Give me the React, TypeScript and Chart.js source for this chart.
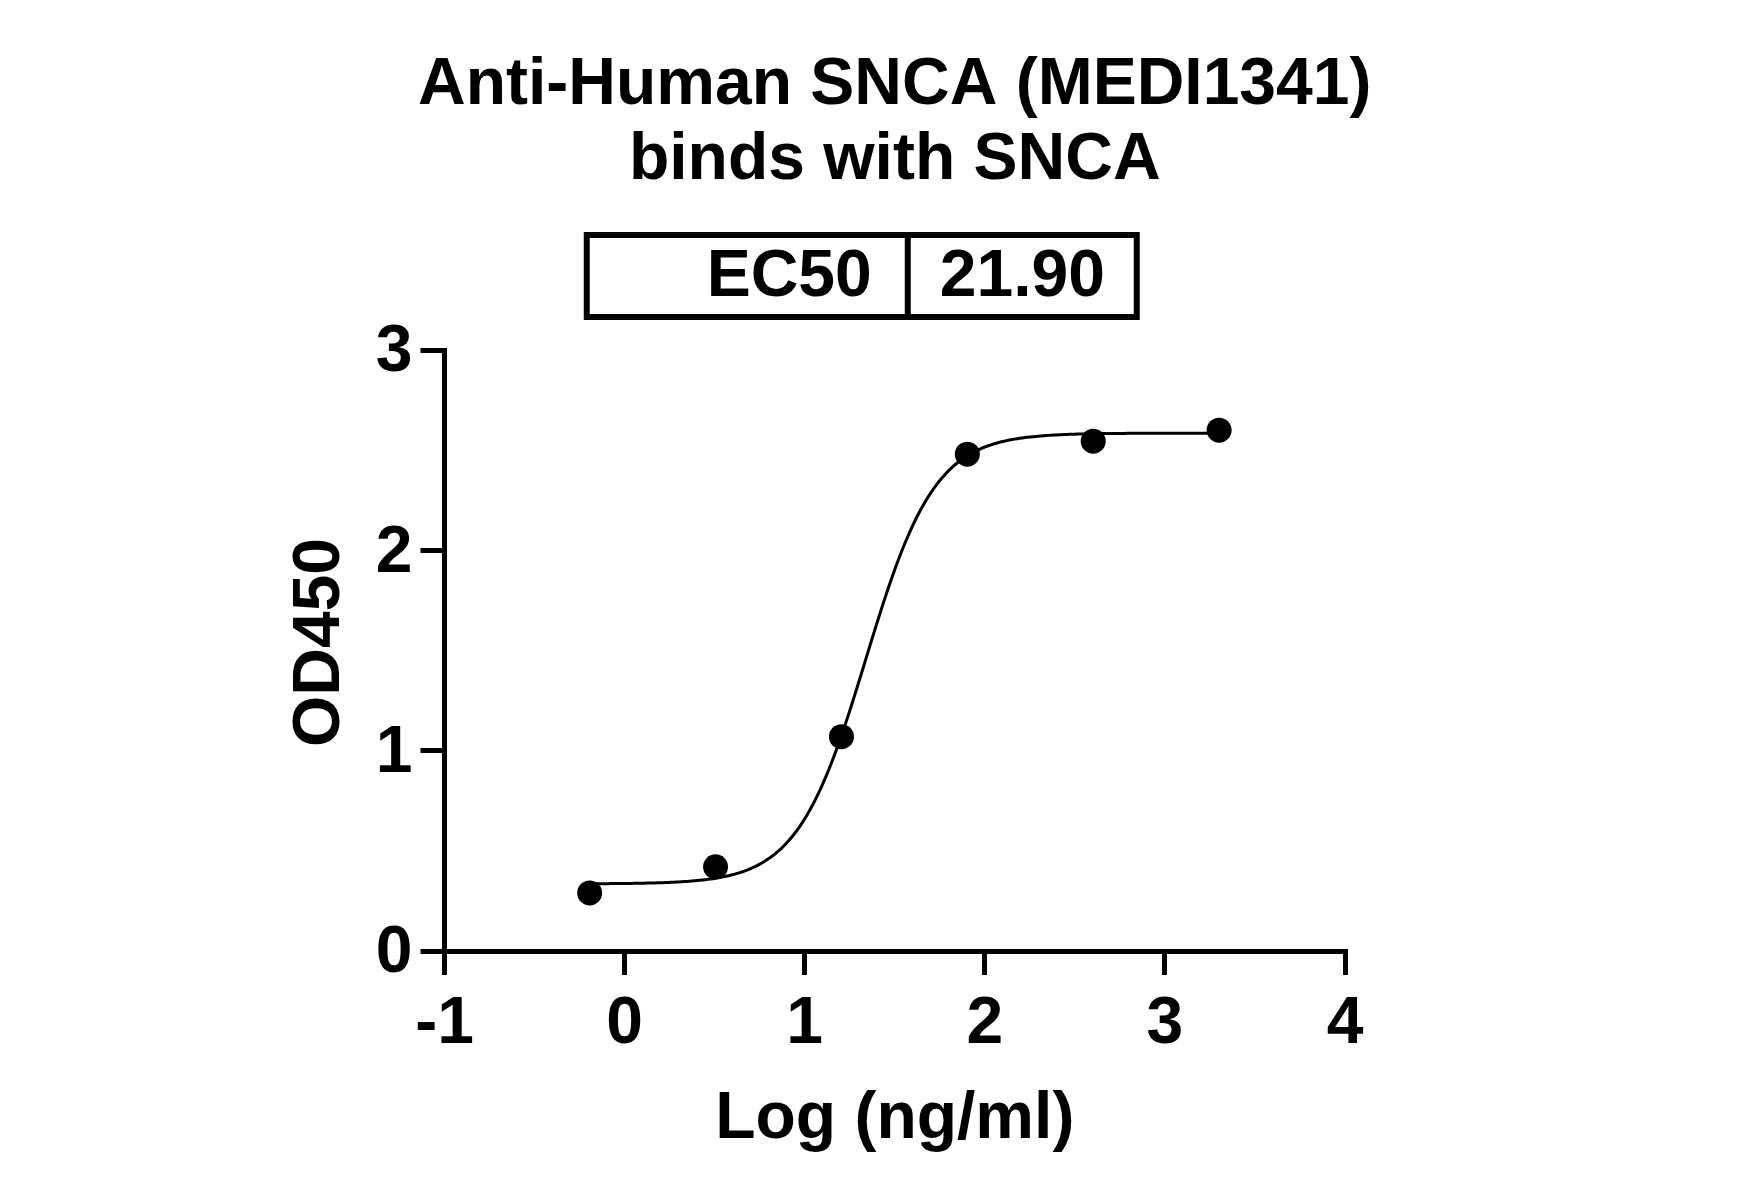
import React, { useEffect, useRef } from "react";
import { Chart, registerables } from "chart.js";

Chart.register(...registerables);

// ---- Text ----
const TITLE_LINES = ["Anti-Human SNCA (MEDI1341)", "binds with SNCA"];
const X_TITLE = "Log (ng/ml)";
const Y_TITLE = "OD450";
const EC50_LABEL = "EC50";
const EC50_VALUE = "21.90";

// ---- Data (log10 concentration, OD450) ----
const LOG_CONC = [-0.194, 0.505, 1.204, 1.903, 2.602, 3.301];
const OD450 = [0.29, 0.42, 1.07, 2.48, 2.545, 2.6];

// ---- 4PL fit parameters ----
const FIT_BOTTOM = 0.335;
const FIT_TOP = 2.585;
const FIT_EC50 = 21.9;
const FIT_HILL = 2.27;
const FIT_STEPS = 240;

// ---- Axis ticks ----
const X_TICKS = [-1, 0, 1, 2, 3, 4];
const Y_TICKS = [0, 1, 2, 3];

const FONT = "'Liberation Sans', Arial, Helvetica, sans-serif";

function fitCurve() {
  const logEc50 = Math.log10(FIT_EC50);
  const x0 = Math.min(...LOG_CONC);
  const x1 = Math.max(...LOG_CONC);
  const pts: { x: number; y: number }[] = [];
  for (let i = 0; i <= FIT_STEPS; i++) {
    const x = x0 + ((x1 - x0) * i) / FIT_STEPS;
    const y = FIT_BOTTOM + (FIT_TOP - FIT_BOTTOM) / (1 + Math.pow(10, (logEc50 - x) * FIT_HILL));
    pts.push({ x, y });
  }
  return pts;
}

const headerPlugin = {
  id: "header",
  afterDraw(chart: any) {
    const ctx = chart.ctx as CanvasRenderingContext2D;
    const { left, right, top, bottom } = chart.chartArea;
    const cx = (left + right) / 2;
    ctx.save();
    ctx.fillStyle = "#000";
    ctx.strokeStyle = "#000";
    ctx.font = `bold 66px ${FONT}`;
    ctx.textBaseline = "middle";
    ctx.textAlign = "center";
    TITLE_LINES.forEach((t, i) => ctx.fillText(t, cx, top - 264 + i * 75));

    // Y axis title (rotated)
    ctx.save();
    ctx.translate(left - 124, (top + bottom) / 2 - 8);
    ctx.rotate(-Math.PI / 2);
    ctx.textAlign = "center";
    ctx.fillText(Y_TITLE, 0, 0);
    ctx.restore();

    // EC50 table
    const bx0 = cx - 308;
    const bx1 = cx + 242;
    const by0 = top - 115;
    const by1 = top - 33;
    const div = cx + 13;
    ctx.lineWidth = 6;
    ctx.strokeRect(bx0, by0, bx1 - bx0, by1 - by0);
    ctx.beginPath();
    ctx.moveTo(div, by0);
    ctx.lineTo(div, by1);
    ctx.stroke();
    const ty = (by0 + by1) / 2 + 2;
    ctx.textAlign = "right";
    ctx.fillText(EC50_LABEL, div - 36, ty);
    ctx.textAlign = "left";
    ctx.fillText(EC50_VALUE, div + 32, ty);
    ctx.restore();
  },
};

export default function App() {
  const canvasRef = useRef<HTMLCanvasElement | null>(null);

  useEffect(() => {
    if (!canvasRef.current) return;
    const tickFont = { family: FONT, size: 66, weight: "bold" as const, lineHeight: 1.2 };
    const chart = new Chart(canvasRef.current, {
      type: "scatter",
      data: {
        datasets: [
          {
            label: "data",
            data: LOG_CONC.map((x, i) => ({ x, y: OD450[i] })),
            pointRadius: 12.5,
            pointBackgroundColor: "#000",
            pointBorderWidth: 0,
            showLine: false,
            clip: false as any,
          },
          {
            label: "fit",
            data: fitCurve(),
            showLine: true,
            pointRadius: 0,
            borderColor: "#000",
            borderWidth: 3,
            tension: 0,
            clip: false as any,
          },
        ],
      },
      options: {
        animation: false,
        responsive: true,
        maintainAspectRatio: false,
        devicePixelRatio: 1,
        events: [],
        layout: { padding: { left: 0, right: 418, top: 350, bottom: 0 } },
        plugins: {
          legend: { display: false },
          tooltip: { enabled: false },
          title: { display: false },
        },
        scales: {
          x: {
            type: "linear",
            min: -1,
            max: 4,
            afterBuildTicks: (s: any) => {
              s.ticks = X_TICKS.map((v) => ({ value: v }));
            },
            afterFit: (s: any) => {
              s.height = 246;
            },
            ticks: { color: "#000", font: tickFont, padding: 10, maxRotation: 0, autoSkip: false },
            grid: {
              drawOnChartArea: false,
              drawTicks: true,
              tickLength: 24,
              lineWidth: 5,
              color: "#000",
            },
            border: { display: true, width: 5, color: "#000" },
            title: {
              display: true,
              text: X_TITLE,
              color: "#000",
              font: tickFont,
              padding: { top: 0, bottom: 38 },
            },
          },
          y: {
            type: "linear",
            min: 0,
            max: 3,
            afterBuildTicks: (s: any) => {
              s.ticks = Y_TICKS.map((v) => ({ value: v }));
            },
            afterFit: (s: any) => {
              s.width = 444.5;
            },
            ticks: { color: "#000", font: tickFont, padding: 8, labelOffset: 3, autoSkip: false },
            grid: {
              drawOnChartArea: false,
              drawTicks: true,
              tickLength: 24,
              lineWidth: 5,
              color: "#000",
            },
            border: { display: true, width: 5, color: "#000" },
            title: { display: false },
          },
        },
      },
      plugins: [headerPlugin],
    });
    return () => chart.destroy();
  }, []);

  return (
    <div style={{ position: "fixed", left: 0, top: 0, width: 1763, height: 1197, background: "#fff" }}>
      <canvas ref={canvasRef} />
    </div>
  );
}
